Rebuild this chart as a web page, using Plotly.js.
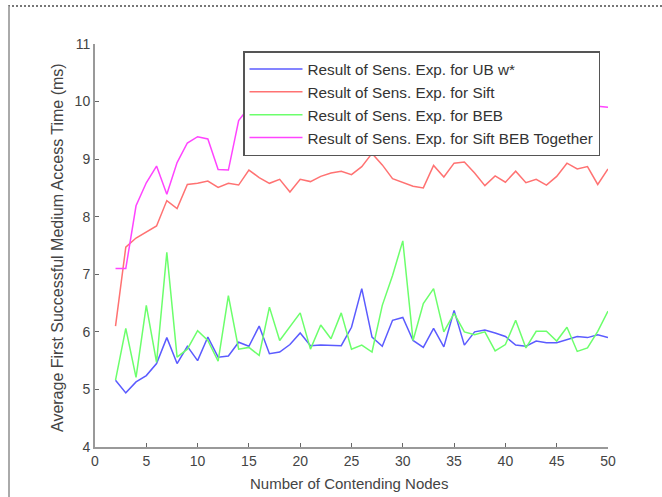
<!DOCTYPE html>
<html>
<head>
<meta charset="utf-8">
<script src="https://cdn.plot.ly/plotly-3.0.1.min.js"></script>
<style>
  html, body { margin: 0; padding: 0; background: #fff; }
  #wrap { position: relative; width: 662px; height: 497px; overflow: hidden; }
  #chart { position: absolute; left: 0; top: 0; width: 662px; height: 497px; }
  #frame { position: absolute; left: 8px; top: 5px; width: 660px; height: 500px;
           border-top: 2px dotted #777; border-left: 2px solid #aaa; pointer-events: none; }
</style>
</head>
<body>
<div id="wrap">
  <div id="chart"></div>
  <div id="frame"></div>
</div>
<script>
// Number of contending nodes
const nodes = [2,3,4,5,6,7,8,9,10,11,12,13,14,15,16,17,18,19,20,21,22,23,24,25,26,
               27,28,29,30,31,32,33,34,35,36,37,38,39,40,41,42,43,44,45,46,47,48,49,50];

const ubW = [5.16,4.94,5.13,5.24,5.45,5.90,5.45,5.75,5.50,5.91,5.56,5.58,5.82,5.75,6.10,
             5.62,5.65,5.78,5.98,5.76,5.77,5.76,5.76,6.08,6.75,5.91,5.75,6.20,6.25,5.85,
             5.73,6.06,5.74,6.37,5.77,6.00,6.03,5.98,5.92,5.77,5.75,5.84,5.81,5.81,5.87,
             5.92,5.90,5.95,5.90];

const sift = [6.10,7.47,7.63,7.73,7.84,8.28,8.14,8.56,8.58,8.62,8.51,8.58,8.55,8.81,8.68,
              8.58,8.65,8.43,8.65,8.61,8.70,8.76,8.79,8.73,8.87,9.10,8.90,8.66,8.60,8.53,
              8.50,8.89,8.69,8.93,8.95,8.76,8.54,8.71,8.60,8.79,8.59,8.65,8.55,8.70,8.93,
              8.83,8.87,8.56,8.83];

const beb = [5.16,6.06,5.21,6.46,5.47,7.38,5.56,5.70,6.02,5.85,5.49,6.63,5.70,5.73,5.59,
             6.43,5.85,6.10,6.33,5.70,6.12,5.88,6.33,5.70,5.77,5.65,6.46,6.98,7.58,5.85,
             6.49,6.75,6.00,6.32,6.00,5.95,6.00,5.67,5.78,6.20,5.72,6.01,6.01,5.84,6.08,
             5.66,5.72,6.01,6.36];

const siftBeb = [7.10,7.10,8.19,8.59,8.88,8.39,8.94,9.28,9.39,9.35,8.82,8.81,9.67,9.90,10.00,
                 9.85,10.05,9.95,10.10,9.90,10.00,10.15,9.95,10.05,10.20,10.00,9.90,10.10,10.05,9.95,
                 10.00,10.15,9.90,10.05,10.10,9.95,10.00,9.85,10.05,10.10,9.95,10.00,9.90,10.05,10.10,
                 9.95,10.00,9.92,9.90];

const seriesNames = [
  "Result of Sens. Exp. for UB w*",
  "Result of Sens. Exp. for Sift",
  "Result of Sens. Exp. for BEB",
  "Result of Sens. Exp. for Sift BEB Together"
];
const xTicks = [0,5,10,15,20,25,30,35,40,45,50];
const yTicks = [4,5,6,7,8,9,10,11];
const xTitle = "Number of Contending Nodes";
const yTitle = "Average First Successful Medium Access Time (ms)";

const colors = ["#5b5bff", "#ff7272", "#6cff6c", "#ff44ff"];
const data = [ubW, sift, beb, siftBeb].map((ys, i) => ({
  x: nodes, y: ys, type: "scatter", mode: "lines", name: seriesNames[i],
  line: { color: colors[i], width: 1.5 }
}));

const fam = "Liberation Sans, Arial, sans-serif";
const tickFont = { family: fam, size: 14, color: "#444" };

// plot area: left 95, right 608, top 44, bottom 447
const W = 662, H = 497, L = 95, R = 54, T = 44, B = 50;
const pw = W - L - R, ph = H - T - B;

const layout = {
  width: W, height: H,
  margin: { l: L, r: R, t: T, b: B, pad: 0 },
  paper_bgcolor: "#fff", plot_bgcolor: "#fff",
  font: tickFont,
  showlegend: true,
  legend: {
    x: (243 - L) / pw, y: (H - B - 51) / ph, xanchor: "left", yanchor: "top",
    bgcolor: "#fff", bordercolor: "#555", borderwidth: 1.5,
    font: { family: fam, size: 15.3, color: "#333" },
    tracegroupgap: 0, itemwidth: 53
  },
  xaxis: {
    range: [0, 50], tickvals: xTicks, ticktext: xTicks.map(String),
    showgrid: false, zeroline: false, showline: true, linecolor: "#999", linewidth: 2,
    ticks: "inside", ticklen: 4, tickcolor: "#666", tickwidth: 1,
    tickfont: tickFont, mirror: false
  },
  yaxis: {
    range: [4, 11], tickvals: yTicks, ticktext: yTicks.map(String),
    showgrid: false, zeroline: false, showline: true, linecolor: "#999", linewidth: 2,
    ticks: "inside", ticklen: 4, tickcolor: "#666", tickwidth: 1,
    tickfont: tickFont, mirror: false
  },
  annotations: [
    { text: xTitle, xref: "paper", yref: "paper", showarrow: false,
      x: (349 - L) / pw, y: (H - B - 483) / ph, xanchor: "center", yanchor: "middle",
      font: { family: fam, size: 15, color: "#444" } },
    { text: yTitle, xref: "paper", yref: "paper", showarrow: false, textangle: -90,
      x: (57 - L) / pw, y: (H - B - 248) / ph, xanchor: "center", yanchor: "middle",
      font: { family: fam, size: 16, color: "#444" } }
  ]
};

Plotly.newPlot("chart", data, layout, { displayModeBar: false, staticPlot: true });
</script>
</body>
</html>
